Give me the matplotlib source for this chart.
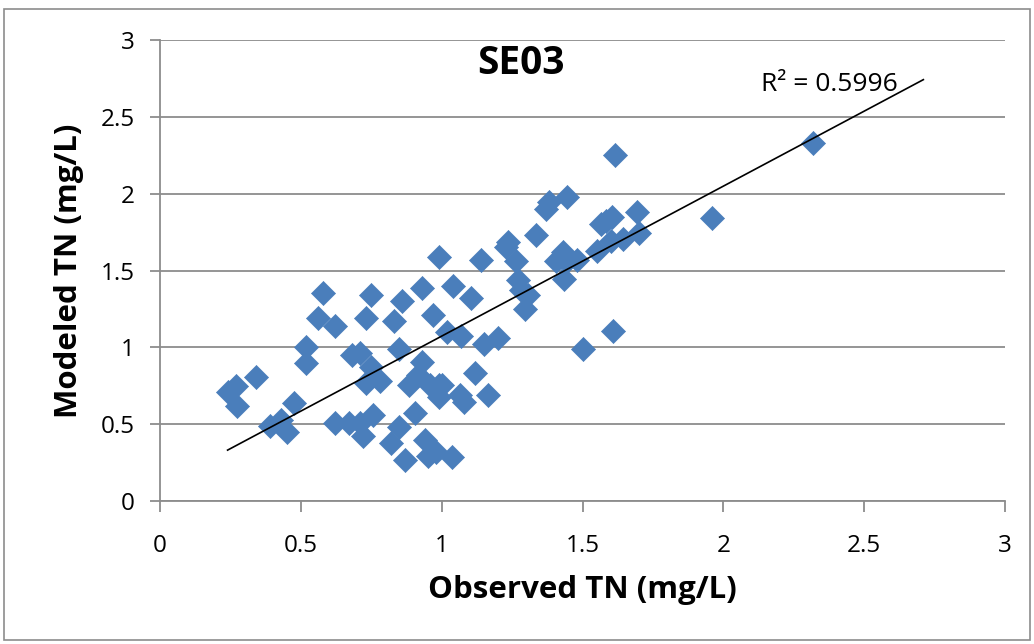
import matplotlib.pyplot as plt
from matplotlib.patches import Rectangle

# observed / modeled TN (mg/L)
observed = [0.24, 0.27, 0.275, 0.34, 0.39, 0.43, 0.45, 0.475, 0.52, 0.52,
            0.56, 0.58, 0.62, 0.62, 0.67, 0.68, 0.71, 0.71, 0.72, 0.73,
            0.73, 0.75, 0.75, 0.755, 0.78, 0.83, 0.82, 0.85, 0.85, 0.86,
            0.87, 0.885, 0.905, 0.915, 0.93, 0.93, 0.94, 0.95, 0.96, 0.97,
            0.98, 0.99, 0.99, 1.0, 0.99, 1.02, 1.035, 1.04, 1.065, 1.07,
            1.08, 1.105, 1.12, 1.14, 1.15, 1.165, 1.2, 1.23, 1.235, 1.265,
            1.27, 1.28, 1.295, 1.305, 1.335, 1.37, 1.38, 1.405, 1.425, 1.43,
            1.435, 1.445, 1.445, 1.48, 1.5, 1.55, 1.565, 1.585, 1.605, 1.6,
            1.615, 1.61, 1.645, 1.695, 1.7, 1.96, 2.32]
modeled = [0.71, 0.75, 0.62, 0.81, 0.49, 0.53, 0.45, 0.64, 1.005, 0.9,
           1.19, 1.355, 1.14, 0.51, 0.51, 0.95, 0.96, 0.51, 0.42, 1.19,
           0.77, 0.87, 1.34, 0.56, 0.78, 1.17, 0.38, 0.48, 0.99, 1.3,
           0.27, 0.755, 0.57, 0.82, 1.385, 0.905, 0.4, 0.29, 0.755, 1.21,
           0.32, 0.755, 1.59, 0.755, 0.68, 1.1, 0.285, 1.4, 0.69, 1.075,
           0.645, 1.32, 0.83, 1.57, 1.02, 0.69, 1.06, 1.655, 1.685, 1.56,
           1.44, 1.375, 1.25, 1.34, 1.73, 1.9, 1.945, 1.56, 1.59, 1.62,
           1.445, 1.56, 1.98, 1.57, 0.99, 1.63, 1.8, 1.82, 1.845, 1.69,
           2.25, 1.105, 1.705, 1.88, 1.745, 1.84, 2.33]

# linear trendline shown on the chart
trend_x = [0.24, 2.71]
trend_slope = 0.976
trend_intercept = 0.097
r2_text = "R² = 0.5996"

plt.rcParams['font.family'] = ['Open Sans', 'DejaVu Sans']

fig = plt.figure(figsize=(10.34, 6.44), dpi=100)
ax = fig.add_axes([0.1547, 0.222, 0.972 - 0.1547, 0.9379 - 0.222])

# outer chart border
fig.patches.append(Rectangle((0.004, 0.006), 0.992, 0.98, transform=fig.transFigure,
                             fill=False, edgecolor='#8c8c8c', linewidth=1.2))

ax.scatter(observed, modeled, marker='D', s=150, color='#4A7EBB',
           edgecolors='#4A7EBB', linewidths=0.5, zorder=3)

trend_y = [trend_slope * x + trend_intercept for x in trend_x]
ax.plot(trend_x, trend_y, color='black', linewidth=1.2, zorder=4)

ax.set_xlim(0, 3)
ax.set_ylim(0, 3)
ax.set_xticks([0, 0.5, 1, 1.5, 2, 2.5, 3])
ax.set_xticklabels(['0', '0.5', '1', '1.5', '2', '2.5', '3'])
ax.set_yticks([0, 0.5, 1, 1.5, 2, 2.5, 3])
ax.set_yticklabels(['0', '0.5', '1', '1.5', '2', '2.5', '3'])
ax.yaxis.grid(True, color='#8c8c8c', linewidth=1.3)
ax.set_axisbelow(True)

for side in ['top', 'right']:
    ax.spines[side].set_visible(False)
for side in ['left', 'bottom']:
    ax.spines[side].set_color('#8c8c8c')
    ax.spines[side].set_linewidth(1.3)
ax.tick_params(axis='both', colors='#8c8c8c', length=7, width=1.3,
               labelcolor='black', labelsize=17.5)
ax.tick_params(axis='y', pad=11)
ax.tick_params(axis='x', length=8, pad=16)

ax.set_xlabel('Observed TN (mg/L)', fontsize=22.5, fontweight='bold', labelpad=12)
ax.set_ylabel('Modeled TN (mg/L)', fontsize=22.5, fontweight='bold', labelpad=12)

ax.text(1.28, 2.85, 'SE03', fontsize=28, fontweight='bold', ha='center', va='center')
ax.text(2.62, 2.71, r2_text, fontsize=19, ha='right', va='center')

fig.savefig('out.png', dpi=100)
